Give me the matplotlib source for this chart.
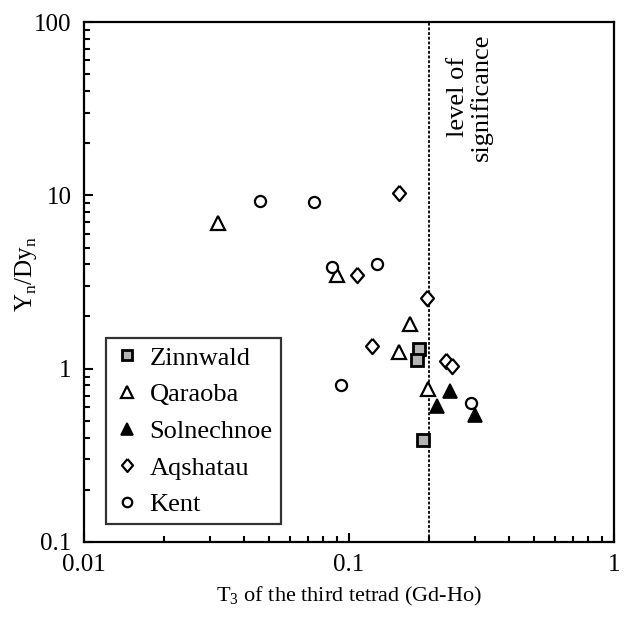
import matplotlib.pyplot as plt
from matplotlib.ticker import LogLocator, FuncFormatter, NullFormatter

plt.rcParams['font.family'] = ['Liberation Serif', 'DejaVu Serif']
plt.rcParams['mathtext.fontset'] = 'custom'
plt.rcParams['mathtext.rm'] = 'Liberation Serif'

# data
zin_x = [0.183, 0.181, 0.19]
zin_y = [1.3, 1.12, 0.39]

qar_x = [0.032, 0.09, 0.17, 0.155, 0.198]
qar_y = [6.9, 3.45, 1.8, 1.25, 0.76]

sol_x = [0.24, 0.215, 0.30]
sol_y = [0.74, 0.61, 0.54]

aqs_x = [0.155, 0.107, 0.197, 0.122, 0.233, 0.245]
aqs_y = [10.3, 3.45, 2.55, 1.35, 1.1, 1.04]

ken_x = [0.046, 0.074, 0.086, 0.127, 0.093, 0.288]
ken_y = [9.3, 9.1, 3.85, 4.0, 0.8, 0.63]

level = 0.2

diamond = [(0, 1), (0.85, 0), (0, -1), (-0.85, 0), (0, 1)]

fig = plt.figure(figsize=(6.24, 6.17), dpi=100)
ax = fig.add_axes([0.1346, 0.1216, 0.8494, 0.8427])

ax.plot(zin_x, zin_y, ls='none', marker='s', ms=8, mfc='#b4b4b4', mec='black', mew=2, label='Zinnwald', zorder=3)
ax.plot(qar_x, qar_y, ls='none', marker='^', ms=10, mfc='white', mec='black', mew=1.6, label='Qaraoba', zorder=3)
ax.plot(sol_x, sol_y, ls='none', marker='^', ms=10.5, mfc='black', mec='black', mew=1.2, label='Solnechnoe', zorder=3)
ax.plot(aqs_x, aqs_y, ls='none', marker=diamond, ms=11, mfc='white', mec='black', mew=1.6, label='Aqshatau', zorder=3)
ax.plot(ken_x, ken_y, ls='none', marker='o', ms=8, mfc='white', mec='black', mew=1.6, label='Kent', zorder=3)

ax.axvline(level, color='black', lw=1.3, ls=(0, (1.6, 1.0)), zorder=2)
ax.text(0.286, 37, 'level of\nsignificance', rotation=90, ha='center', va='center',
        fontsize=19, linespacing=1.0)

ax.set_xscale('log')
ax.set_yscale('log')
ax.set_xlim(0.01, 1)
ax.set_ylim(0.1, 100)

fmt = FuncFormatter(lambda v, p: '%g' % v)
ax.xaxis.set_major_formatter(fmt)
ax.yaxis.set_major_formatter(fmt)
ax.xaxis.set_minor_formatter(NullFormatter())
ax.yaxis.set_minor_formatter(NullFormatter())
ax.xaxis.set_minor_locator(LogLocator(base=10, subs=range(2, 10)))
ax.yaxis.set_minor_locator(LogLocator(base=10, subs=range(2, 10)))

ax.tick_params(which='both', direction='in', top=False, right=False, labelsize=18, width=1.5)
ax.tick_params(which='major', length=6.5, pad=9)
ax.tick_params(which='minor', length=4.5)
for s in ax.spines.values():
    s.set_linewidth(1.6)

ax.set_xlabel(r'T$_{\mathregular{3}}$ of the third tetrad (Gd-Ho)', fontsize=16, labelpad=6)
ax.set_ylabel(r'Y$_{\mathregular{n}}$/Dy$_{\mathregular{n}}$', fontsize=18)
ax.yaxis.set_label_coords(-0.085, 0.515)

leg = ax.legend(loc='upper left', bbox_to_anchor=(0.0415, 0.392), borderaxespad=0,
                fancybox=False, edgecolor='black', fontsize=19, markerscale=0.85,
                handlelength=1.0, handletextpad=0.35, labelspacing=0.5, borderpad=0.3)
leg.get_frame().set_linewidth(1.6)

fig.savefig('out.png', dpi=100)
